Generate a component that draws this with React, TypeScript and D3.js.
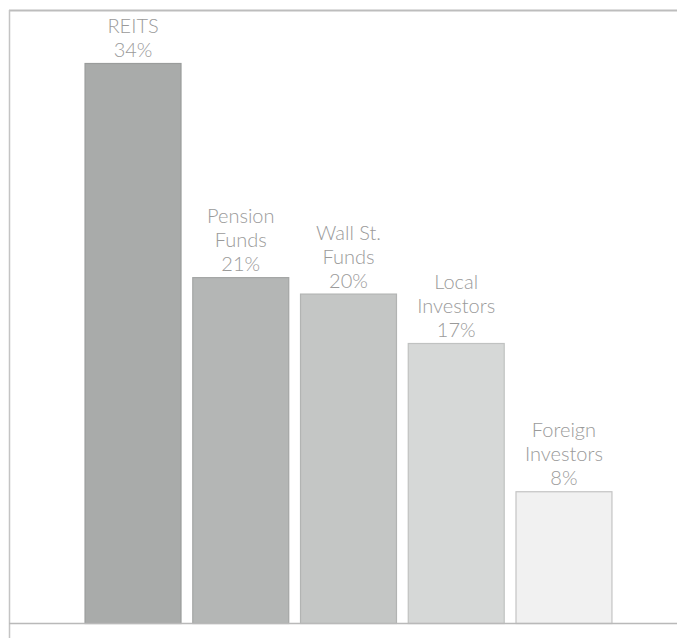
import React from "react";
import * as d3 from "d3";

const categories: string[][] = [
  ["REITS"],
  ["Pension", "Funds"],
  ["Wall St.", "Funds"],
  ["Local", "Investors"],
  ["Foreign", "Investors"],
];
const values: number[] = [34, 21, 20, 17, 8];
const fills: string[] = ["#a9abaa", "#b4b6b5", "#c4c6c5", "#d6d8d7", "#f1f1f1"];
const strokes: string[] = ["#9a9c9b", "#a4a6a5", "#b2b4b3", "#c0c2c1", "#c4c4c4"];

const W = 677;
const H = 638;

export default function App() {
  const x = d3
    .scaleBand<number>()
    .domain(values.map((_, i) => i))
    .range([77, 620])
    .paddingInner(0.1)
    .paddingOuter(0.07);
  const y = d3.scaleLinear().domain([0, 34]).range([623, 63]);
  const lineH = 24;

  return (
    <svg
      width={W}
      height={H}
      style={{ position: "absolute", left: 0, top: 0, background: "#fff" }}
      fontFamily="Lato, 'Open Sans', sans-serif"
    >
      <rect x={0} y={0} width={W} height={H} fill="#fff" />
      {/* frame */}
      <line x1={9} x2={W} y1={10.5} y2={10.5} stroke="#bdbdbd" strokeWidth={2} />
      <line x1={9.5} x2={9.5} y1={10} y2={H} stroke="#c4c4c4" strokeWidth={1.5} />
      {values.map((v, i) => {
        const bx = x(i)!;
        const bw = x.bandwidth();
        const top = y(v);
        const lines = [...categories[i], `${v}%`];
        const cx = bx + bw / 2;
        return (
          <g key={i}>
            <rect
              x={bx + 0.5}
              y={top + 0.5}
              width={bw - 1}
              height={y(0) - top}
              fill={fills[i]}
              stroke={strokes[i]}
              strokeWidth={1.2}
            />
            {lines.map((t, j) => (
              <text
                key={j}
                x={cx}
                y={top - 6 - (lines.length - 1 - j) * lineH}
                textAnchor="middle"
                fontSize={20}
                fontWeight={300}
                fill="#9a9a9a"
              >
                {t}
              </text>
            ))}
          </g>
        );
      })}
      <line x1={9} x2={W} y1={623.5} y2={623.5} stroke="#b9b9b9" strokeWidth={1.5} />
    </svg>
  );
}
